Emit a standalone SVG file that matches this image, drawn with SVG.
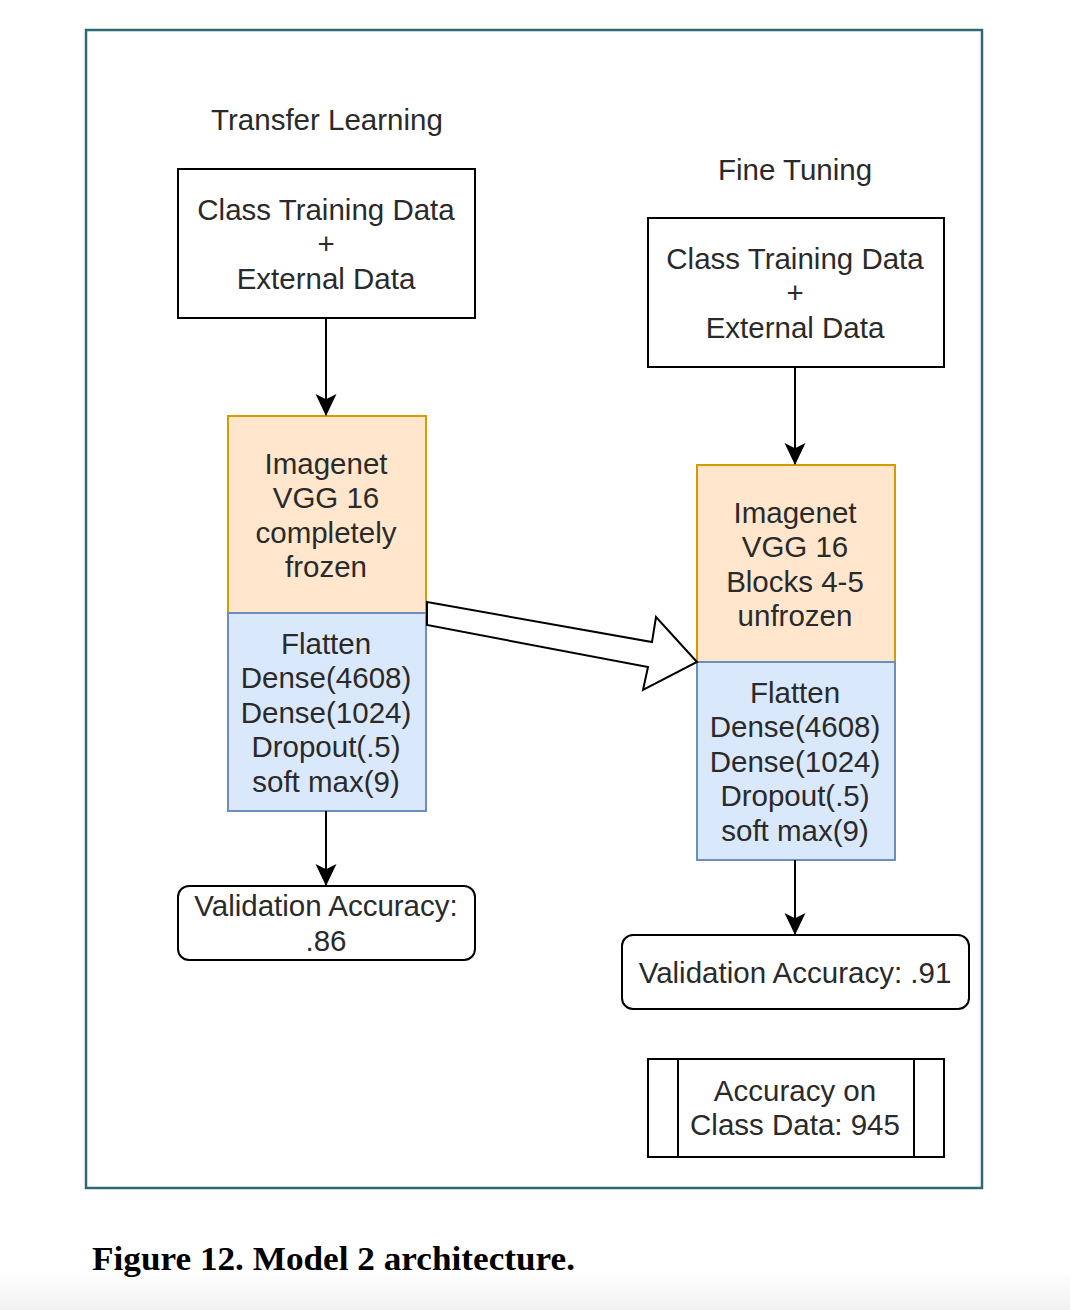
<svg xmlns="http://www.w3.org/2000/svg" width="1070" height="1310" viewBox="0 0 1070 1310">
  <defs>
    <linearGradient id="pageShade" x1="0" y1="0" x2="0" y2="1">
      <stop offset="0" stop-color="#ffffff"/>
      <stop offset="1" stop-color="#f1f1f1"/>
    </linearGradient>
    <marker id="arr" markerUnits="userSpaceOnUse" markerWidth="22" markerHeight="22" refX="20" refY="10" orient="auto" viewBox="0 0 21 20">
      <path d="M0,0 L21,10 L0,20 L5,10 Z" fill="#000"/>
    </marker>
    <style>
      .t { font-family: "Liberation Sans", Arial, sans-serif; font-size: 29.5px; fill: #2a2a2a; text-anchor: middle; }
      .box { fill: #ffffff; stroke: #000; stroke-width: 2; }
      .orange { fill: #ffe6cc; stroke: #d79b00; stroke-width: 2; }
      .blue { fill: #dae8fc; stroke: #6c8ebf; stroke-width: 2; }
      .edge { fill: none; stroke: #000; stroke-width: 2; }
    </style>
  </defs>
  <rect x="0" y="0" width="1070" height="1310" fill="#ffffff"/>
  <rect x="0" y="1270" width="1070" height="40" fill="url(#pageShade)"/>
  <rect id="frame" x="86" y="30" width="896" height="1158" fill="none" stroke="#2f6a74" stroke-width="2.5"/>

  <g id="title-transfer"><text class="t" x="327" y="130">Transfer Learning</text></g>
  <g id="title-fine"><text class="t" x="795" y="180">Fine Tuning</text></g>

  <g id="left-data">
    <rect class="box" x="178" y="169" width="297" height="149"/>
    <text class="t" x="326" y="219.5">Class Training Data</text>
    <text class="t" x="326" y="254">+</text>
    <text class="t" x="326" y="288.5">External Data</text>
  </g>
  <g id="left-vgg">
    <rect class="orange" x="228" y="416" width="198" height="197"/>
    <text class="t" x="326" y="473.5">Imagenet</text>
    <text class="t" x="326" y="508">VGG 16</text>
    <text class="t" x="326" y="542.5">completely</text>
    <text class="t" x="326" y="577">frozen</text>
  </g>
  <g id="left-head">
    <rect class="blue" x="228" y="613" width="198" height="198"/>
    <text class="t" x="326" y="653.5">Flatten</text>
    <text class="t" x="326" y="688">Dense(4608)</text>
    <text class="t" x="326" y="722.5">Dense(1024)</text>
    <text class="t" x="326" y="757">Dropout(.5)</text>
    <text class="t" x="326" y="791.5">soft max(9)</text>
  </g>
  <g id="left-val">
    <rect class="box" x="178" y="886" width="297" height="74" rx="11"/>
    <text class="t" x="326" y="916">Validation Accuracy:</text>
    <text class="t" x="326" y="950.5">.86</text>
  </g>

  <g id="right-data">
    <rect class="box" x="648" y="218" width="296" height="149"/>
    <text class="t" x="795" y="268.5">Class Training Data</text>
    <text class="t" x="795" y="303">+</text>
    <text class="t" x="795" y="337.5">External Data</text>
  </g>
  <g id="right-vgg">
    <rect class="orange" x="697" y="465" width="198" height="197"/>
    <text class="t" x="795" y="522.5">Imagenet</text>
    <text class="t" x="795" y="557">VGG 16</text>
    <text class="t" x="795" y="591.5">Blocks 4-5</text>
    <text class="t" x="795" y="626">unfrozen</text>
  </g>
  <g id="right-head">
    <rect class="blue" x="697" y="662" width="198" height="198"/>
    <text class="t" x="795" y="702.5">Flatten</text>
    <text class="t" x="795" y="737">Dense(4608)</text>
    <text class="t" x="795" y="771.5">Dense(1024)</text>
    <text class="t" x="795" y="806">Dropout(.5)</text>
    <text class="t" x="795" y="840.5">soft max(9)</text>
  </g>
  <g id="right-val">
    <rect class="box" x="622" y="935" width="347" height="74" rx="11"/>
    <text class="t" x="795" y="982.5">Validation Accuracy: .91</text>
  </g>
  <g id="class-acc">
    <rect class="box" x="648" y="1059" width="296" height="98"/>
    <line class="edge" x1="678" y1="1059" x2="678" y2="1157"/>
    <line class="edge" x1="914" y1="1059" x2="914" y2="1157"/>
    <text class="t" x="795" y="1100.5">Accuracy on</text>
    <text class="t" x="795" y="1135">Class Data: 945</text>
  </g>

  <g id="connectors">
    <line class="edge" x1="326" y1="318" x2="326" y2="415" marker-end="url(#arr)"/>
    <line class="edge" x1="326" y1="811" x2="326" y2="885" marker-end="url(#arr)"/>
    <line class="edge" x1="795" y1="367" x2="795" y2="464" marker-end="url(#arr)"/>
    <line class="edge" x1="795" y1="860" x2="795" y2="934" marker-end="url(#arr)"/>
    <polygon points="427,602 652,642 656,617 697,662 643,690 648,667 427,625" fill="#ffffff" stroke="#000" stroke-width="2" stroke-linejoin="miter"/>
  </g>

  <text x="92" y="1270" font-family="Liberation Serif, 'Times New Roman', serif" font-weight="bold" font-size="34" fill="#000" textLength="483" lengthAdjust="spacingAndGlyphs">Figure 12. Model 2 architecture.</text>
</svg>
